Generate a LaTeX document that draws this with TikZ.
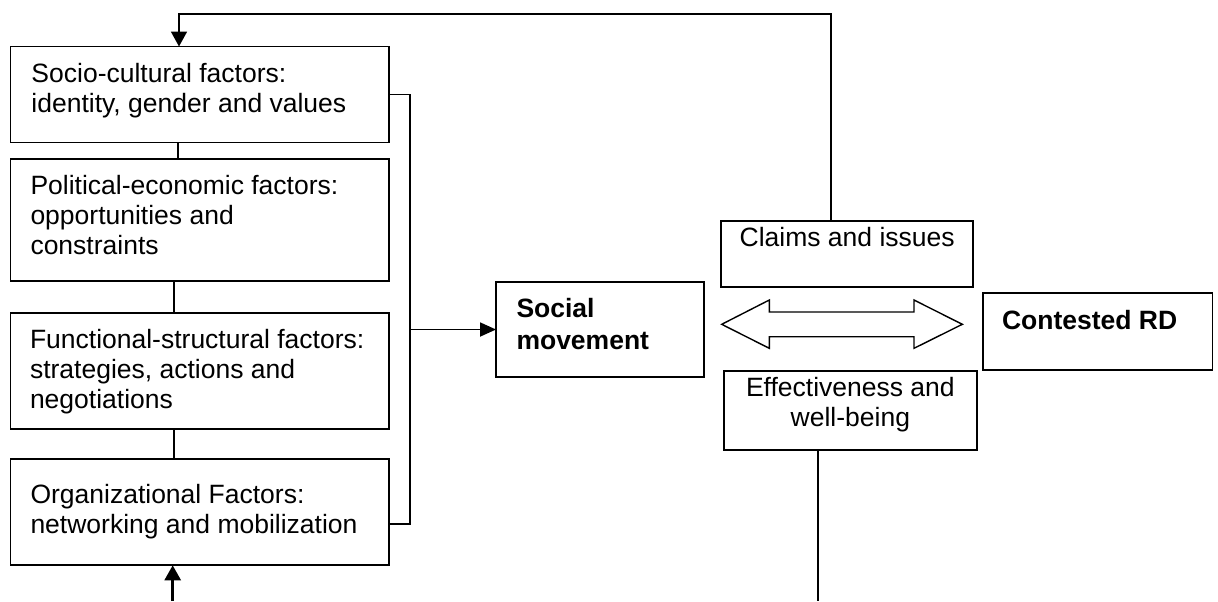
\documentclass[tikz,border=0pt]{standalone}
\usepackage{fontspec}
\setmainfont{Liberation Sans}
\usetikzlibrary{calc,arrows.meta}
\begin{document}
\begin{tikzpicture}[x=0.5pt,y=-0.5pt, line width=0.9pt,
  box/.style={draw, rectangle, inner sep=0pt, outer sep=0pt, anchor=north west},
  txt/.style={inner sep=0pt, outer sep=0pt, align=left, anchor=north west, font=\fontsize{13.25}{15}\selectfont},
  ctxt/.style={txt, align=center, anchor=north},
  btxt/.style={txt, font=\fontsize{13.25}{15.8}\selectfont\bfseries},
  arr/.style={-{Triangle[length=7.5pt,width=8pt]}},
  arrh/.style={-{Triangle[length=8pt,width=7pt]}}]
\useasboundingbox (0,0) rectangle (1218,601);

% left column boxes
\node[box, minimum width=189.25pt, minimum height=48pt] (sc) at (10.5,46.5) {};
\node[box, minimum width=189.25pt, minimum height=60.85pt] (pe) at (10.5,159.3) {};
\node[box, minimum width=189.25pt, minimum height=58.15pt] (fs) at (10.5,312.7) {};
\node[box, minimum width=189.25pt, minimum height=53.15pt] (org) at (10.5,459) {};

% other boxes
\node[box, minimum width=104pt, minimum height=47.8pt] (sm) at (496,281.7) {};
\node[box, minimum width=126.15pt, minimum height=33pt] (cl) at (721,220.7) {};
\node[box, minimum width=126.35pt, minimum height=39.65pt] (ef) at (724,370.7) {};
\node[box, minimum width=114.75pt, minimum height=38.5pt] (rd) at (983,293.3) {};

% texts
\node[txt] (tsc) at ($(sc.north west)+(21,14.8)$) {\strut Socio-cultural factors:\\identity, gender and values};
\node[txt] (tpe) at ($(pe.north west)+(20,14)$) {\strut Political-economic factors:\\opportunities and\\constraints};
\node[txt] (tfs) at ($(fs.north west)+(19.5,14.6)$) {\strut Functional-structural factors:\\strategies, actions and\\negotiations};
\node[txt] (torg) at ($(org.north west)+(20,23.3)$) {\strut Organizational Factors:\\networking and mobilization};
\node[btxt] (tsm) at ($(sm.north west)+(20.5,14)$) {\strut Social\\movement};
\node[btxt] (trd) at ($(rd.north west)+(19,14)$) {\strut Contested RD};
\node[ctxt] (tcl) at ($(cl.north)+(0,5)$) {\strut Claims and issues};
\node[ctxt] (tef) at ($(ef.north)+(0,5)$) {\strut Effectiveness and\\well-being};

% links between left boxes
\coordinate (v1) at (178,0);
\coordinate (v2) at (174,0);
\draw (v1 |- sc.south) -- (v1 |- pe.north);
\draw (v2 |- pe.south) -- (v2 |- fs.north);
\draw (v2 |- fs.south) -- (v2 |- org.north);

% feedback from claims to socio-cultural
\coordinate (fbR) at (831,14);
\coordinate (fbL) at (179,14);
\draw[arr] (cl.north -| fbR) -- (fbR) -- (fbL) -- (fbL |- sc.north);

% bracket and arrow to social movement
\coordinate (bk) at (410,524.3);
\draw (sc.east) -| (bk) -- (bk -| org.east);
\coordinate (bj) at (410,0);
\draw[arrh] (bj |- sm.west) -- (sm.west);

% bottom up arrow
\coordinate (bot) at (172.7,601);
\draw[arr, line width=1.4pt] (bot) -- (bot |- org.south);

% line below effectiveness
\coordinate (eb) at (818.3,601);
\draw (eb |- ef.south) -- (eb);

% double arrow
\draw[line width=0.7pt] (721.7,324.3) -- (769.3,300) -- (769.3,312) -- (914,312) -- (914,300)
  -- (962.3,324.3) -- (914,348.3) -- (914,336.7) -- (769.3,336.7) -- (769.3,348.3) -- cycle;
\end{tikzpicture}
\end{document}
